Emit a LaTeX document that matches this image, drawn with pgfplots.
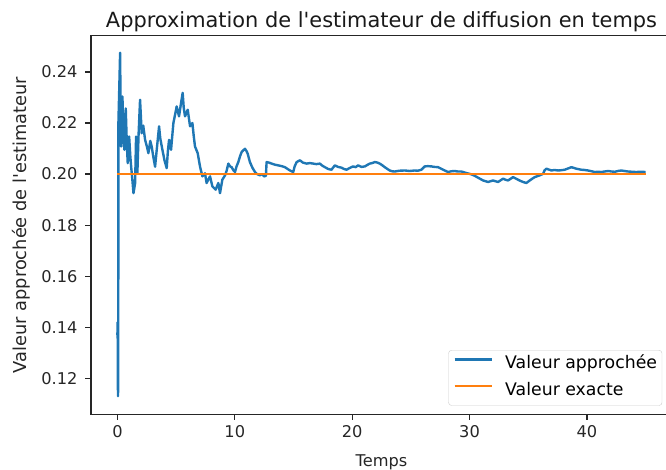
\documentclass[border=0pt]{standalone}
\usepackage{pgfplots}
\pgfplotsset{compat=1.18}
\usepackage{fontspec}
\setmainfont{DejaVu Sans}
\definecolor{mplblue}{HTML}{1F77B4}
\definecolor{mplorange}{HTML}{FF7F0E}
\begin{document}
\begin{tikzpicture}
\begin{axis}[
  name=ax,
  scale only axis=true,
  width=581pt, height=378.6pt,
  xmin=-2.25, xmax=47.25,
  ymin=0.1059, ymax=0.2542,
  axis line style={line width=1.2pt, black!85},
  tick align=outside,
  major tick length=5.5pt,
  every tick/.style={line width=1.2pt, black!85},
  xtick={0,10,20,30,40},
  ytick={0.12,0.14,0.16,0.18,0.20,0.22,0.24},
  xtick pos=bottom, ytick pos=left,
  /pgf/number format/assume math mode=true,
  y tick label style={/pgf/number format/fixed, /pgf/number format/fixed zerofill, /pgf/number format/precision=2},
  x tick label style={yshift=-2pt},
  yticklabel style={xshift=-4.5pt},
  ticklabel style={font=\fontsize{16.2}{18}\selectfont, color=black!85},
  title={Approximation de l\textquotesingle estimateur de diffusion en temps},
  every axis title/.style={at={(rel axis cs:0.5,1)}, anchor=base, yshift=7.7pt,
     font=\fontsize{20.9}{23}\selectfont, color=black!90},
  xlabel={Temps},
  ylabel={Valeur approchée de l\textquotesingle estimateur},
  every axis x label/.style={at={(rel axis cs:0.5,0)}, anchor=base, yshift=-52.5pt,
     font=\fontsize{16.2}{18}\selectfont, color=black!85},
  every axis y label/.style={at={(rel axis cs:0,0.5)}, xshift=-69.3pt, rotate=90, anchor=center,
     font=\fontsize{17.8}{20}\selectfont, color=black!85},
  legend style={at={(1,0)}, anchor=south east, xshift=-9.8pt, yshift=8.6pt,
    draw=black!20, rounded corners=3pt, fill=white, fill opacity=0.8, text opacity=1,
    font=\fontsize{17.3}{19}\selectfont, inner xsep=5pt, inner ysep=6pt,
    nodes={inner sep=0pt, text height=12.6pt, text depth=4pt},
    row sep=10pt, column sep=11.7pt,
    cells={anchor=west}},
  legend image code/.code={\draw[#1] (0pt,5pt) -- (37.6pt,5pt);},
]
\addplot[mplblue, line width=2.4pt, line join=round] coordinates {
(0,0.137) (0.02,0.142) (0.035,0.122) (0.05,0.113) (0.07,0.119) (0.085,0.220)
(0.15,0.232) (0.23,0.2475) (0.27,0.226) (0.32,0.2108) (0.38,0.222) (0.43,0.2304)
(0.5,0.215) (0.6,0.2095) (0.71,0.2257) (0.8,0.212) (0.88,0.2043) (1.0,0.2147)
(1.1,0.207) (1.17,0.2029) (1.27,0.198) (1.37,0.1925) (1.51,0.1965) (1.59,0.2147)
(1.7,0.2003) (1.8,0.215) (1.93,0.2291) (2.07,0.216) (2.2,0.219) (2.36,0.2134)
(2.5,0.211) (2.64,0.2082) (2.8,0.213) (2.92,0.2108) (3.05,0.207) (3.21,0.2029)
(3.35,0.2095) (3.55,0.2187) (3.65,0.214) (3.78,0.2108) (3.9,0.208) (4.0,0.2056)
(4.2,0.2023) (4.3,0.209) (4.4,0.2134) (4.57,0.2095) (4.77,0.220) (4.9,0.223)
(5.05,0.2265) (5.25,0.2226) (5.42,0.2278) (5.56,0.2318) (5.65,0.226) (5.76,0.2226)
(5.99,0.2252) (6.19,0.2187) (6.39,0.220) (6.5,0.215) (6.61,0.2108) (6.84,0.2082)
(7.04,0.2029) (7.24,0.1991) (7.46,0.2003) (7.6,0.1965) (7.89,0.1991) (8.09,0.1952)
(8.37,0.1939) (8.6,0.1965) (8.74,0.1925) (8.94,0.1978) (9.17,0.1995) (9.3,0.2012) (9.45,0.2041)
(9.6,0.2030) (9.73,0.2027) (9.88,0.2015) (10.02,0.2008) (10.15,0.2030) (10.3,0.2047) (10.45,0.2070) (10.58,0.2086)
(10.72,0.2093) (10.87,0.2099) (11.0,0.2090) (11.1,0.208) (11.2,0.2062)
(11.29,0.2047) (11.5,0.2025) (11.72,0.2008) (11.9,0.2000) (12.14,0.1995) (12.3,0.2000) (12.5,0.1991) (12.65,0.1993) (12.71,0.2047) (12.9,0.2045) (13.14,0.2041)
(13.4,0.2037) (13.7,0.2034) (14.0,0.2031) (14.27,0.2027) (14.5,0.2020) (14.7,0.2014) (14.98,0.2008) (15.1,0.2030) (15.27,0.2047) (15.55,0.2054)
(15.8,0.2045) (16.12,0.2041) (16.4,0.2043) (16.68,0.2041) (16.95,0.2039) (17.25,0.2041) (17.45,0.2033) (17.68,0.2027) (17.95,0.2020) (18.24,0.2017) (18.52,0.2034)
(18.8,0.2028) (19.09,0.2025) (19.3,0.2020) (19.52,0.2017) (19.8,0.2024) (20.08,0.203) (20.3,0.2027) (20.5,0.2034) (20.8,0.2028) (21.08,0.203) (21.3,0.2036) (21.5,0.2041)
(21.7,0.2043) (21.93,0.2047) (22.15,0.2045) (22.35,0.2041) (22.55,0.2035) (22.78,0.2027) (23.0,0.2020) (23.2,0.2014) (23.4,0.2011) (23.63,0.201) (24.0,0.2013) (24.48,0.2014)
(24.9,0.2012) (25.33,0.2014) (25.6,0.2013) (25.9,0.2017) (26.18,0.203) (26.45,0.2031) (26.75,0.203) (27.0,0.2028) (27.32,0.2027) (27.75,0.2017)
(28.17,0.2008) (28.45,0.2011) (28.74,0.2012) (29.0,0.2010) (29.31,0.201) (29.73,0.2004) (30.16,0.1999) (30.45,0.1993) (30.72,0.1986)
(31.15,0.1975) (31.58,0.1969) (32.0,0.1975) (32.2,0.1972) (32.43,0.1969) (32.86,0.1982) (33.05,0.1978) (33.28,0.1975)
(33.71,0.1988) (34.13,0.1978) (34.35,0.1973) (34.56,0.1969) (34.84,0.1965) (35.13,0.1975) (35.35,0.1982) (35.55,0.1988)
(35.98,0.1995) (36.27,0.2001) (36.4,0.2015) (36.55,0.2021) (36.98,0.2014) (37.25,0.2016) (37.54,0.2014) (37.8,0.2015) (38.11,0.2017)
(38.4,0.2022) (38.68,0.2027) (39.1,0.2021) (39.53,0.2017) (39.8,0.2016) (40.1,0.2014) (40.4,0.2011) (40.66,0.2008) (40.95,0.2009) (41.23,0.2008)
(41.5,0.2010) (41.8,0.2012) (42.1,0.2010) (42.37,0.2009) (42.65,0.2012) (42.93,0.2014) (43.2,0.2012) (43.5,0.201) (43.85,0.2009) (44.2,0.2008) (44.6,0.2009) (45.0,0.2008)
};
\addlegendentry{Valeur approchée}
\addplot[mplorange, line width=2.4pt] coordinates {(0,0.2) (45,0.2)};
\addlegendentry{Valeur exacte}
\coordinate (SW) at (rel axis cs:0,0);
\coordinate (NW) at (rel axis cs:0,1);
\end{axis}
\pgfresetboundingbox
\path[use as bounding box] ([xshift=-91pt,yshift=-55.7pt]SW) rectangle ([xshift=575pt,yshift=35.7pt]NW);
\end{tikzpicture}
\end{document}
